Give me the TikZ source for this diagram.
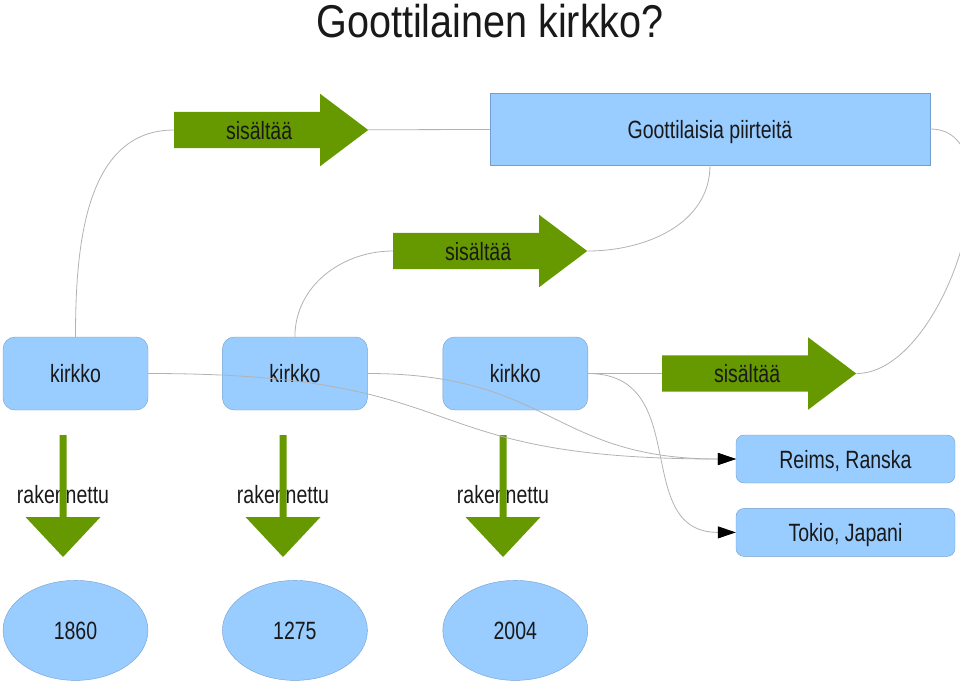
\documentclass[tikz,border=0pt]{standalone}
\usepackage{fontspec}
\setmainfont{Liberation Sans}[FakeStretch=0.78]
\newfontfamily\headfont{Liberation Sans}[FakeStretch=0.86]
\usepackage{tikz}
\usetikzlibrary{
  arrows.meta,
  shapes.geometric,
  shapes.arrows,
  chains,
  positioning,
  scopes
}
\definecolor{boxblue}{RGB}{153,204,255}
\definecolor{boxline}{RGB}{114,159,207}
\definecolor{leafgreen}{RGB}{102,153,0}
\definecolor{wiregray}{RGB}{178,178,178}

\begin{document}
\begin{tikzpicture}[
      x=1pt,y=1pt,
      wording/.style={
         font=\fontsize{25}{30}\selectfont,
         text=black!90,
         text height=18pt,
         text depth=0pt
      },
      church/.style={
         wording,
         rectangle,
         rounded corners=12pt,
         minimum width=145pt,
         minimum height=73pt,
         thin,draw=boxline,fill=boxblue
      },
      feature/.style={
         wording,
         rectangle,
         minimum width=440pt,
         minimum height=72pt,
         thin,draw=boxline,fill=boxblue
      },
      place/.style={
         wording,
         rectangle,
         rounded corners=8pt,
         minimum width=219pt,
         minimum height=48pt,
         thin,draw=boxline,fill=boxblue
      },
      year/.style={
         wording,
         ellipse,
         inner sep=0pt,
         minimum width=145pt,
         minimum height=100pt,
         thin,draw=boxline,fill=boxblue
      },
      contains/.style={
         wording,
         single arrow,
         fill=leafgreen,
         single arrow head extend=18pt,
         single arrow tip angle=74,
         inner ysep=9pt,inner xsep=13pt,
         minimum height=194pt,
         anchor=tail
      },
      built/.style={fill=leafgreen},
      every join/.style={draw=wiregray,line width=0.8pt},
      tip/.style={-{Triangle[length=18pt,width=12pt,color=black]}}
    ]
    \useasboundingbox (0,0) rectangle (960,-683);
    \node (title) [font=\headfont\fontsize{46}{55}\selectfont,text=black!90] at (490,-21) {Goottilainen kirkko?};

    \node (k1) [church] at (75.5,-373.5) {kirkko};
    \node (k2) [church, right=74pt of k1] {kirkko};
    \node (k3) [church, right=75pt of k2] {kirkko};
    \node (y1) [year, below=170pt of k1] {1860};
    \node (y2) [year, below=170pt of k2] {1275};
    \node (y3) [year, below=170pt of k3] {2004};

    \node (goth) [feature] at (710,-129) {Goottilaisia piirteitä};
    \node (has1) [contains] at (174,-130) {sisältää};
    \node (has2) [contains] at (393,-251) {sisältää};
    \node (has3) [contains] at (662,-373.5) {sisältää};
    \node (reims) [place] at (845.5,-459) {Reims, Ranska};
    \node (tokio) [place, below=25pt of reims] {Tokio, Japani};

    \node (r1) [wording] at (63,-494) {rakennettu};
    \node (r2) [wording] at (283,-494) {rakennettu};
    \node (r3) [wording] at (503,-494) {rakennettu};
    \fill[built] (59.5,-435) -- (66.5,-435) -- (66.5,-517) -- (100.5,-517) -- (63,-557) -- (25.5,-517) -- (59.5,-517) -- cycle;
    \fill[built,xshift=220pt] (59.5,-435) -- (66.5,-435) -- (66.5,-517) -- (100.5,-517) -- (63,-557) -- (25.5,-517) -- (59.5,-517) -- cycle;
    \fill[built,xshift=440pt] (59.5,-435) -- (66.5,-435) -- (66.5,-517) -- (100.5,-517) -- (63,-557) -- (25.5,-517) -- (59.5,-517) -- cycle;

  { [start chain]
       \chainin (k1);
       \chainin (has1)    [join=by {out=90,in=180}];
  }
  { [start chain]
       \chainin (has1);
       \chainin (goth)    [join];
  }
  { [start chain]
       \chainin (goth);
       \chainin (has2)    [join=by {out=-90,in=0}];
  }
  { [start chain]
       \chainin (has2);
       \chainin (k2)    [join=by {out=180,in=90}];
  }
  { [start chain]
       \chainin (goth);
       \chainin (has3)    [join=by {out=0,in=0,looseness=0.9}];
  }
  { [start chain]
       \chainin (k3);
       \chainin (has3)    [join];
  }
  { [start chain]
       \chainin (k1);
       \chainin (reims)    [join=by {tip,out=0,in=180,looseness=1.45}];
  }
  { [start chain]
       \chainin (k2);
       \chainin (reims)    [join=by {tip,out=0,in=180,looseness=1.25}];
  }
  { [start chain]
       \chainin (k3);
       \chainin (tokio)    [join=by {tip,out=0,in=180,looseness=1.25}];
  }
\end{tikzpicture}
\end{document}
